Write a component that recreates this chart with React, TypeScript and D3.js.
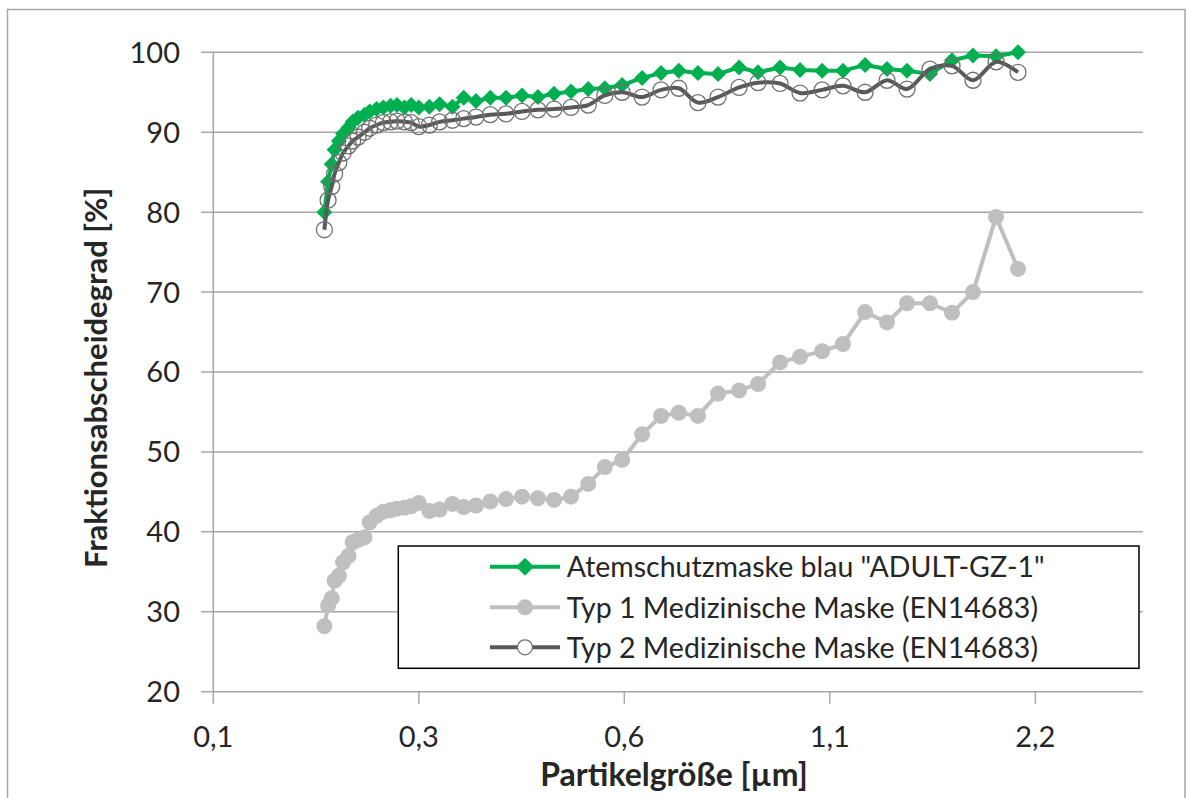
import * as d3 from "d3";

// particle size channels [µm]
const SIZES = [
  0.2, 0.2025, 0.205, 0.207, 0.21, 0.213, 0.217, 0.22, 0.224, 0.229,
  0.233, 0.2385, 0.244, 0.25, 0.2555, 0.262, 0.268, 0.275, 0.285, 0.295,
  0.308, 0.32, 0.3335, 0.35, 0.369, 0.3895, 0.411, 0.434, 0.4595, 0.487,
  0.515, 0.546, 0.584, 0.6225, 0.661, 0.705, 0.7545, 0.81, 0.8635, 0.93,
  0.995, 1.072, 1.15, 1.239, 1.334, 1.427, 1.542, 1.661, 1.783, 1.927,
  2.075,
];

const ATEMSCHUTZ = [
  80.0, 83.8, 86.0, 87.8, 88.9, 89.8, 90.6, 91.3, 91.8, 92.2,
  92.6, 92.9, 93.1, 93.3, 93.4, 93.1, 93.4, 93.1, 93.2, 93.5,
  93.2, 94.3, 93.9, 94.3, 94.3, 94.6, 94.4, 94.8, 95.1, 95.4,
  95.5, 95.9, 96.8, 97.4, 97.7, 97.4, 97.3, 98.1, 97.5, 98.1,
  97.8, 97.7, 97.7, 98.4, 97.9, 97.7, 97.3, 99.0, 99.6, 99.5,
  100.0,
];

const TYP1 = [
  28.2, 30.8, 31.7, 33.9, 34.5, 36.2, 37.0, 38.7, 39.0, 39.3,
  41.2, 42.0, 42.5, 42.7, 42.9, 43.0, 43.2, 43.6, 42.6, 42.8,
  43.5, 43.1, 43.3, 43.8, 44.1, 44.4, 44.2, 44.0, 44.4, 46.0,
  48.1, 49.0, 52.2, 54.5, 54.9, 54.5, 57.3, 57.7, 58.5, 61.2,
  61.9, 62.6, 63.5, 67.5, 66.2, 68.6, 68.6, 67.4, 70.0, 79.4,
  72.9,
];

const TYP2 = [
  77.8, 81.5, 83.2, 84.8, 86.2, 87.4, 88.3, 88.9, 89.4, 90.0,
  90.5, 90.9, 91.2, 91.3, 91.4, 91.3, 91.2, 90.7, 90.9, 91.3,
  91.5, 91.7, 91.9, 92.2, 92.3, 92.6, 92.8, 92.9, 93.1, 93.4,
  94.6, 95.0, 94.4, 95.3, 95.5, 93.7, 94.4, 95.6, 96.2, 96.1,
  94.9, 95.3, 95.8, 95.0, 96.5, 95.4, 97.9, 98.3, 96.5, 98.8,
  97.5,
];

const Y_TICKS = [20, 30, 40, 50, 60, 70, 80, 90, 100];
const X_TICKS = [0.1375, 0.275, 0.55, 1.1, 2.2];
const X_TICK_LABELS = ["0,1", "0,3", "0,6", "1,1", "2,2"];

const LEGEND = [
  'Atemschutzmaske blau "ADULT-GZ-1"',
  "Typ 1 Medizinische Maske (EN14683)",
  "Typ 2 Medizinische Maske (EN14683)",
];

const W = 1188;
const H = 798;
const PLOT = { left: 213.3, right: 1142.7, top: 52.3, bottom: 691.7 };
const FONT = "Lato, 'Open Sans', sans-serif";
const GREEN = "#00b050";
const LIGHT = "#bfbfbf";
const DARK = "#595959";
const GRID = "#a6a6a6";
const TEXT = "#262626";

export default function App() {
  const x = d3
    .scaleLog()
    .base(2)
    .domain([0.1375, 3.16])
    .range([PLOT.left, PLOT.right]);
  const y = d3.scaleLinear().domain([20, 100]).range([PLOT.bottom, PLOT.top]);

  const straight = d3
    .line<number>()
    .x((_, i) => x(SIZES[i]))
    .y((v) => y(v));
  // Typ 2 is drawn as a smoothed line in the original
  const smooth = d3
    .line<number>()
    .x((_, i) => x(SIZES[i]))
    .y((v) => y(v))
    .curve(d3.curveCatmullRom.alpha(0.5));

  const diamond = (cx: number, cy: number, r: number) =>
    `M${cx},${cy - r}L${cx + r},${cy}L${cx},${cy + r}L${cx - r},${cy}Z`;

  const legendX = 398.3;
  const legendRows = [566.7, 607.3, 647.3];

  return (
    <svg
      width={W}
      height={H}
      style={{ position: "absolute", left: 0, top: 0, background: "#fff" }}
      fontFamily={FONT}
    >
      <rect x={7.5} y={9.5} width={1177.5} height={800} fill="#fff" stroke={GRID} strokeWidth={1.5} />

      {/* gridlines + y axis */}
      {Y_TICKS.map((t) => (
        <g key={t}>
          <line x1={PLOT.left - 12} x2={PLOT.right} y1={y(t)} y2={y(t)} stroke={GRID} strokeWidth={1.5} />
          <text x={180} y={y(t)} dy="0.36em" textAnchor="end" fontSize={29} fill={TEXT}>
            {t}
          </text>
        </g>
      ))}
      <line x1={PLOT.left} x2={PLOT.left} y1={PLOT.top} y2={PLOT.bottom} stroke={GRID} strokeWidth={1.5} />

      {/* x axis */}
      {X_TICKS.map((t, i) => (
        <g key={t}>
          <line x1={x(t)} x2={x(t)} y1={PLOT.bottom} y2={PLOT.bottom + 12} stroke={GRID} strokeWidth={1.5} />
          <text x={x(t)} y={747} textAnchor="middle" fontSize={29} fill={TEXT}>
            {X_TICK_LABELS[i]}
          </text>
        </g>
      ))}

      <text
        x={(PLOT.left + PLOT.right) / 2 - 4}
        y={786}
        textAnchor="middle"
        fontSize={32}
        fontWeight="bold"
        fill={TEXT}
      >
        Partikelgröße [µm]
      </text>
      <text
        transform={`translate(107,${(PLOT.top + PLOT.bottom) / 2 + 6}) rotate(-90)`}
        textAnchor="middle"
        fontSize={31}
        fontWeight="bold"
        fill={TEXT}
      >
        Fraktionsabscheidegrad [%]
      </text>

      {/* Atemschutzmaske */}
      <path d={straight(ATEMSCHUTZ) ?? ""} fill="none" stroke={GREEN} strokeWidth={4} strokeLinejoin="round" />
      {ATEMSCHUTZ.map((v, i) => (
        <path key={i} d={diamond(x(SIZES[i]), y(v), 8)} fill={GREEN} />
      ))}

      {/* Typ 1 */}
      <path d={straight(TYP1) ?? ""} fill="none" stroke={LIGHT} strokeWidth={4} strokeLinejoin="round" />
      {TYP1.map((v, i) => (
        <circle key={i} cx={x(SIZES[i])} cy={y(v)} r={8} fill={LIGHT} />
      ))}

      {/* Typ 2 */}
      <path d={smooth(TYP2) ?? ""} fill="none" stroke={DARK} strokeWidth={4} strokeLinejoin="round" />
      {TYP2.map((v, i) => (
        <circle key={i} cx={x(SIZES[i])} cy={y(v)} r={8} fill="none" stroke="#707070" strokeWidth={1.3} />
      ))}

      {/* legend */}
      <rect x={legendX} y={546} width={1139 - legendX} height={668.3 - 546} fill="#fff" stroke="#000" strokeWidth={1.5} />
      {LEGEND.map((label, i) => {
        const ly = legendRows[i];
        return (
          <g key={label}>
            <line
              x1={490}
              x2={560}
              y1={ly}
              y2={ly}
              stroke={i === 0 ? GREEN : i === 1 ? LIGHT : DARK}
              strokeWidth={4}
            />
            {i === 0 && <path d={diamond(525, ly, 9)} fill={GREEN} />}
            {i === 1 && <circle cx={525} cy={ly} r={8} fill={LIGHT} />}
            {i === 2 && <circle cx={525} cy={ly} r={7.5} fill="#fff" stroke="#707070" strokeWidth={1.3} />}
            <text x={566.7} y={ly} dy="0.36em" fontSize={28.5} fill={TEXT}>
              {label}
            </text>
          </g>
        );
      })}
    </svg>
  );
}
